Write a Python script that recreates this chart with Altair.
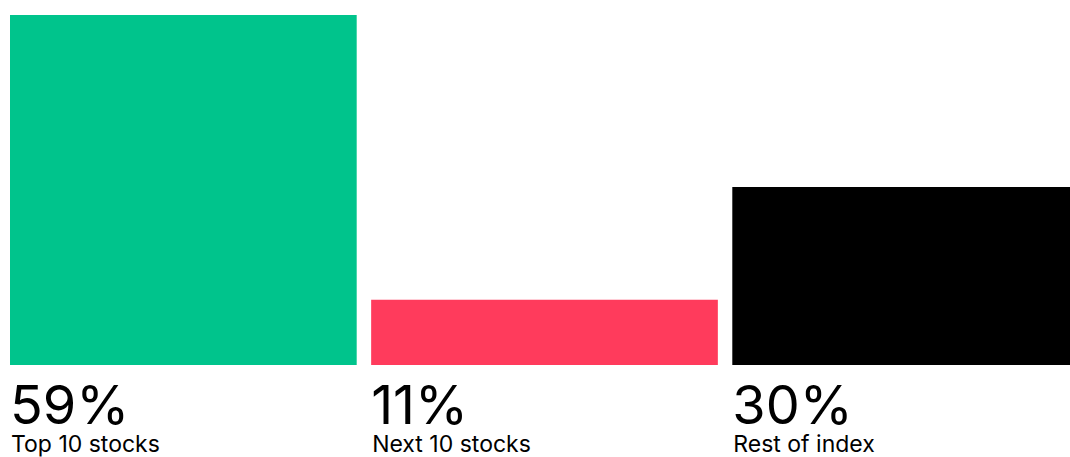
import altair as alt
import pandas as pd

categories = ["Top 10 stocks", "Next 10 stocks", "Rest of index"]
shares = [59, 11, 30]
value_labels = ["59%", "11%", "30%"]
colors = ["#00C48C", "#FF3B5C", "#000000"]

df = pd.DataFrame({"cat": categories, "share": shares, "pct": value_labels})

x_enc = alt.X("cat:N", sort=categories, axis=None,
              scale=alt.Scale(range=[0, 1069], paddingInner=0.04, paddingOuter=0))

bars = alt.Chart(df).mark_bar(clip=True).encode(
    x=x_enc,
    y=alt.Y("share:Q", axis=None, scale=alt.Scale(domain=[0, 60], nice=False)),
    color=alt.Color("cat:N", scale=alt.Scale(domain=categories, range=colors), legend=None),
)

x_left = alt.X("cat:N", sort=categories, axis=None, bandPosition=0,
               scale=alt.Scale(range=[0, 1069], paddingInner=0.04, paddingOuter=0))

big = alt.Chart(df).mark_text(
    align="left", baseline="alphabetic", font="Inter", fontSize=54,
    fontWeight=400, color="#000000", dx=0
).encode(x=x_left, y=alt.value(415), text="pct:N")

small = alt.Chart(df).mark_text(
    align="left", baseline="alphabetic", font="Inter", fontSize=23,
    fontWeight=400, color="#000000", dx=1
).encode(x=x_left, y=alt.value(443), text="cat:N")

chart = alt.layer(bars, big, small).properties(
    width=1060, height=356,
    background="#ffffff",
    autosize=alt.AutoSizeParams(type="none"),
    padding={"left": 10, "top": 9, "right": 0, "bottom": 92},
).configure_view(strokeWidth=0, stroke=None)

chart.save("out.html", embed_options={"renderer": "svg", "actions": False})
